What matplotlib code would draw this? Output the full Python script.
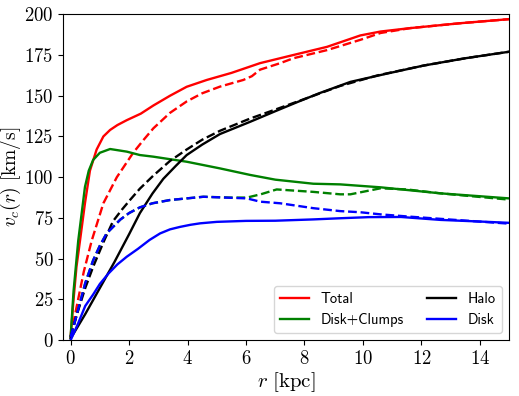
import matplotlib
matplotlib.use("Agg")
import matplotlib.pyplot as plt
from matplotlib.font_manager import FontProperties

plt.rcParams["font.family"] = "serif"
plt.rcParams["font.serif"] = ["cmr10"]
plt.rcParams["mathtext.fontset"] = "cm"
plt.rcParams["axes.formatter.use_mathtext"] = True

# rotation curve components (r in kpc, v in km/s)
r_total = [0, 0.1, 0.2, 0.32, 0.49, 0.66, 0.89, 1.12, 1.35, 1.6, 1.92, 2.4, 2.83,
           3.4, 3.97, 4.66, 5.5, 6.48, 7.62, 8.77, 9.91, 10.6, 11.62, 13.33, 15]
v_total = [2, 25, 45, 61, 84, 104, 117, 125, 129, 132, 135, 139, 144,
           150, 155.5, 159.7, 164, 170, 175, 180, 187, 189.4, 191.5, 194.5, 197]

r_total_d = [0, 0.2, 0.45, 0.72, 1.12, 1.58, 2.14, 2.5, 2.83, 3.4, 3.97, 4.5,
             5.11, 5.91, 6.2, 6.48, 7.17, 7.62, 8.77, 9.91, 10.6, 11.62, 13.33, 15]
v_total_d = [2, 20, 42, 61, 84, 100, 115, 123, 130, 139.5, 146.5, 151.5,
             155.6, 159.7, 162, 166, 170, 173, 178, 184.3, 188.5, 191.5, 194.5, 197]

r_clumps = [0, 0.1, 0.26, 0.49, 0.62, 0.77, 1.0, 1.35, 1.92, 2.37, 2.83, 3.97,
            5.11, 6.14, 7.0, 8.3, 9.22, 10.6, 12.65, 15]
v_clumps = [2, 30, 61, 94, 104, 110.6, 115, 117.3, 115.7, 113.6, 112.6, 109.5,
            105.4, 101.4, 98.5, 96, 95.6, 93.8, 90.1, 87]

r_clumps_d = [0, 0.2, 0.5, 0.77, 1.0, 1.23, 1.7, 2.0, 2.37, 2.8, 3.4, 4.54, 5.5,
              6.03, 6.5, 7.05, 8.3, 9.22, 9.57, 10.6, 11.5, 12.65, 14.9, 15]
v_clumps_d = [2, 15, 35, 49, 58, 65.5, 74, 78, 81.5, 84, 86, 88, 87.5,
              87.5, 89.5, 92.5, 91, 89.5, 89.5, 93.2, 92.5, 90.1, 86.4, 86]

r_halo = [0, 0.5, 1.0, 1.5, 2.0, 2.37, 2.8, 3.17, 3.6, 3.97, 4.5, 5.11, 6.14,
          7.0, 7.74, 8.5, 9.57, 10.8, 12.07, 13.5, 15]
v_halo = [1, 16, 32, 48, 65, 78, 90, 99, 107, 113.6, 120, 126.5, 134,
          140.5, 146, 151.5, 158.5, 163.5, 168.5, 173, 177]

r_halo_d = [0, 0.2, 0.5, 0.77, 1.12, 1.45, 1.75, 2.03, 2.37, 2.83, 3.4, 3.97,
            4.5, 5.11, 6.14, 7.0, 8.0, 9.22, 10.5, 12.07, 13.5, 15]
v_halo_d = [2, 15, 32, 45, 60, 73, 80, 86, 93, 101, 110, 117,
            123, 128.5, 136, 141.5, 148, 156, 162.5, 168.5, 173, 177]

r_disk = [0, 0.25, 0.5, 0.77, 1.0, 1.3, 1.6, 1.92, 2.3, 2.7, 3.06, 3.4, 3.74,
          4.1, 4.43, 5.0, 6.0, 7.0, 8.3, 9.2, 10.2, 11.3, 12.65, 14, 15]
v_disk = [0, 10, 21, 28, 34.5, 41, 46.5, 51.2, 56, 61.5, 65.5, 68, 69.5,
          70.8, 71.7, 72.6, 73.2, 73.3, 74.1, 74.8, 75.5, 75.6, 73.8, 72.8, 72]

r_disk_d = [0, 0.2, 0.5, 0.77, 1.0, 1.23, 1.7, 2.0, 2.37, 2.8, 3.4, 4.54, 6.03,
            6.48, 7.17, 8.3, 9.22, 9.91, 10.6, 11.6, 13, 15]
v_disk_d = [2, 15, 35, 49, 58, 65.5, 74, 78, 81.5, 84, 86, 88, 87,
            85, 84, 81, 79.2, 78.5, 77.2, 75.8, 74, 71.5]

fig = plt.figure(figsize=(5.19, 3.96), dpi=100)
ax = fig.add_axes([0.122, 0.141, 0.859, 0.823])

lw = 1.7
ax.plot(r_total, v_total, color="red", lw=lw, label="Total")
ax.plot(r_total_d, v_total_d, color="red", lw=lw, ls="--")
ax.plot(r_clumps, v_clumps, color="green", lw=lw, label="Disk+Clumps")
ax.plot(r_clumps_d, v_clumps_d, color="green", lw=lw, ls="--")
ax.plot(r_halo, v_halo, color="black", lw=lw, label="Halo")
ax.plot(r_halo_d, v_halo_d, color="black", lw=lw, ls="--")
ax.plot(r_disk, v_disk, color="blue", lw=lw, label="Disk")
ax.plot(r_disk_d, v_disk_d, color="blue", lw=lw, ls="--")

ax.set_xlim(-0.25, 15)
ax.set_ylim(0, 200)
ax.set_xticks(range(0, 15, 2))
ax.set_yticks(range(0, 201, 25))
ax.tick_params(labelsize=13.5)

ax.set_xlabel(r"$r\ [\mathrm{kpc}]$", fontsize=15, labelpad=2)
ax.set_ylabel(r"$v_c(r)\ [\mathrm{km/s}]$", fontsize=14, labelpad=1)

ax.legend(loc="lower right", ncol=2, prop=FontProperties(family="cmss10", size=10.5),
          columnspacing=1.6, handlelength=2.0)

fig.savefig("out.png", dpi=100)
